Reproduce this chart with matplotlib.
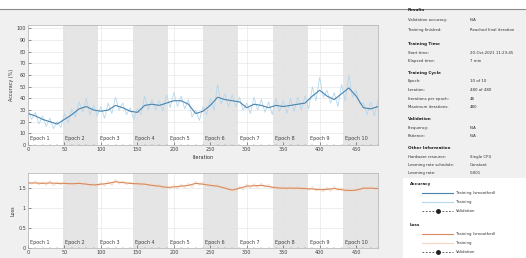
import numpy as np
import matplotlib.pyplot as plt
from matplotlib.patches import Rectangle

W, H = 526, 258

iters_per_epoch = 48
n_epochs = 10
max_iter = 480

# smoothed curves, one value every 10 iterations
smooth_step = 10
acc_smooth = [27, 25, 22, 20, 18, 22, 26, 31, 33, 30,
              29, 30, 34, 32, 29, 28, 34, 35, 34, 36,
              38, 38, 35, 27, 29, 34, 41, 39, 38, 37,
              32, 35, 34, 32, 34, 33, 34, 35, 36, 42,
              47, 42, 39, 44, 49, 42, 32, 31, 33]
loss_smooth = [1.63, 1.63, 1.62, 1.63, 1.62, 1.62, 1.61, 1.62, 1.60, 1.58,
               1.60, 1.62, 1.66, 1.64, 1.62, 1.61, 1.60, 1.57, 1.55, 1.52,
               1.53, 1.55, 1.57, 1.62, 1.60, 1.57, 1.55, 1.50, 1.45, 1.50,
               1.55, 1.56, 1.57, 1.54, 1.51, 1.50, 1.50, 1.50, 1.49, 1.48,
               1.46, 1.47, 1.49, 1.46, 1.44, 1.45, 1.50, 1.50, 1.49]

# raw training curves, one value every 5 iterations
raw_step = 5
acc_raw = [30, 22, 28, 18, 25, 16, 23, 14, 20, 15,
           27, 19, 31, 24, 37, 28, 40, 26, 34, 25,
           33, 23, 36, 27, 41, 30, 36, 26, 32, 22,
           31, 26, 42, 30, 39, 30, 38, 29, 43, 32,
           45, 33, 42, 31, 39, 24, 30, 21, 33, 26,
           40, 30, 52, 35, 44, 33, 43, 33, 41, 30,
           36, 27, 41, 30, 39, 28, 37, 26, 40, 29,
           38, 27, 40, 29, 41, 30, 42, 31, 50, 38,
           58, 41, 47, 36, 45, 33, 52, 38, 60, 41,
           47, 35, 36, 26, 37, 25, 38]
loss_raw = [1.66, 1.60, 1.68, 1.58, 1.66, 1.57, 1.69, 1.56, 1.65, 1.58,
            1.67, 1.57, 1.64, 1.56, 1.67, 1.57, 1.64, 1.55, 1.62, 1.53,
            1.65, 1.55, 1.67, 1.57, 1.72, 1.60, 1.68, 1.59, 1.66, 1.57,
            1.65, 1.56, 1.64, 1.55, 1.62, 1.52, 1.60, 1.49, 1.57, 1.47,
            1.58, 1.48, 1.60, 1.50, 1.62, 1.52, 1.67, 1.57, 1.65, 1.55,
            1.62, 1.52, 1.60, 1.49, 1.55, 1.45, 1.50, 1.40, 1.55, 1.45,
            1.60, 1.50, 1.61, 1.51, 1.62, 1.52, 1.59, 1.49, 1.56, 1.46,
            1.55, 1.45, 1.55, 1.45, 1.55, 1.44, 1.54, 1.44, 1.53, 1.43,
            1.51, 1.41, 1.52, 1.42, 1.54, 1.44, 1.51, 1.41, 1.49, 1.39,
            1.50, 1.40, 1.55, 1.45, 1.55, 1.45, 1.54]

acc_ticks = list(range(0, 101, 10))
loss_ticks = [0, 0.5, 1, 1.5]
loss_tick_labels = ['0', '0.5', '1', '1.5']
iter_ticks = list(range(0, 451, 50))

info_rows = [
    ('Results', None),
    ('Validation accuracy:', 'N/A'),
    ('Training finished:', 'Reached final iteration'),
    ('Training Time', None),
    ('Start time:', '20-Oct-2021 11:23:45'),
    ('Elapsed time:', '7 min'),
    ('Training Cycle', None),
    ('Epoch:', '10 of 10'),
    ('Iteration:', '480 of 480'),
    ('Iterations per epoch:', '48'),
    ('Maximum iterations:', '480'),
    ('Validation', None),
    ('Frequency:', 'N/A'),
    ('Patience:', 'N/A'),
    ('Other Information', None),
    ('Hardware resource:', 'Single CPU'),
    ('Learning rate schedule:', 'Constant'),
    ('Learning rate:', '0.001'),
]
info_y = [10, 20, 30, 44, 53, 61, 73, 81, 90, 99, 107, 119, 128, 136, 148, 157, 165, 173]

acc_dark = '#4a83ad'
acc_light = '#b3d8ef'
loss_dark = '#d98a5c'
loss_light = '#f6d6c2'

fig = plt.figure(figsize=(W / 100, H / 100), dpi=100, facecolor='#f0f0f0')


def px_axes(x0, y0, x1, y1):
    return fig.add_axes([x0 / W, 1 - y1 / H, (x1 - x0) / W, (y1 - y0) / H])


def style(ax):
    ax.set_facecolor('white')
    for s in ax.spines.values():
        s.set_color('#b0b0b0')
        s.set_linewidth(0.5)
    ax.tick_params(direction='in', length=2, width=0.4, labelsize=3.5,
                   colors='#404040', pad=1.5)
    ax.tick_params(which='minor', direction='in', length=1, width=0.3, colors='#808080')
    ax.grid(True, color='#e2e2e2', linewidth=0.4)
    ax.set_axisbelow(True)
    for k in range(n_epochs):
        if k % 2 == 1:
            ax.axvspan(k * iters_per_epoch, (k + 1) * iters_per_epoch,
                       color='#e5e5e5', zorder=0, linewidth=0)
    ax.set_xlim(0, max_iter)
    ax.set_xticks(iter_ticks)
    ax.set_xticks(range(0, max_iter + 1, 10), minor=True)


x_smooth = np.arange(len(acc_smooth)) * smooth_step
x_raw = np.arange(len(acc_raw)) * raw_step

# accuracy
ax1 = px_axes(28, 25, 378, 145)
style(ax1)
ax1.plot(x_raw, acc_raw, color=acc_light, linewidth=0.6)
ax1.plot(x_smooth, acc_smooth, color=acc_dark, linewidth=0.8)
ax1.set_ylim(0, 103)
ax1.set_yticks(acc_ticks)
ax1.set_ylabel('Accuracy (%)', fontsize=3.5, labelpad=2, color='#303030')
ax1.set_xlabel('Iteration', fontsize=3.5, labelpad=2, color='#303030')
for k in range(n_epochs):
    ax1.text(k * iters_per_epoch + 3, 6, f'Epoch {k + 1}', fontsize=3.5,
             va='center', color='#404040')

# loss
ax2 = px_axes(28, 173, 378, 248)
style(ax2)
ax2.plot(x_raw, loss_raw, color=loss_light, linewidth=0.6)
ax2.plot(x_smooth, loss_smooth, color=loss_dark, linewidth=0.8)
ax2.set_ylim(0, 1.88)
ax2.set_yticks(loss_ticks)
ax2.set_yticklabels(loss_tick_labels)
ax2.set_ylabel('Loss', fontsize=3.5, labelpad=2, color='#303030')
for k in range(n_epochs):
    ax2.text(k * iters_per_epoch + 3, 0.13, f'Epoch {k + 1}', fontsize=3.5,
             va='center', color='#404040')

# overlay in pixel coordinates for the window chrome and side panel
ov = fig.add_axes([0, 0, 1, 1])
ov.set_xlim(0, W)
ov.set_ylim(H, 0)
ov.axis('off')
ov.add_patch(Rectangle((0, 0), W, 9, color='white', linewidth=0))
ov.plot([0, W], [9, 9], color='#8a8a8a', linewidth=0.8)

for (label, value), y in zip(info_rows, info_y):
    if value is None:
        ov.text(408, y, label, fontsize=3, fontweight='bold', va='center', color='#202020')
    else:
        ov.text(408, y, label, fontsize=2.8, va='center', color='#303030')
        ov.text(470, y, value, fontsize=2.8, va='center', color='#303030')

ov.add_patch(Rectangle((403, 178), W - 403, H - 178, color='white', linewidth=0))

legend_groups = [('Accuracy', 184, acc_dark, acc_light),
                 ('Loss', 225, loss_dark, loss_light)]
for title, y0, dark, light in legend_groups:
    ov.text(410, y0, title, fontsize=3, fontweight='bold', va='center', color='#202020')
    ov.plot([422, 453], [y0 + 9, y0 + 9], color=dark, linewidth=0.8)
    ov.text(456, y0 + 9, 'Training (smoothed)', fontsize=2.8, va='center', color='#303030')
    ov.plot([422, 453], [y0 + 18, y0 + 18], color=light, linewidth=0.8)
    ov.text(456, y0 + 18, 'Training', fontsize=2.8, va='center', color='#303030')
    ov.plot([422, 453], [y0 + 27, y0 + 27], color='#404040', linewidth=0.6,
            linestyle='--', dashes=(2, 2))
    ov.plot([437.5], [y0 + 27], marker='o', markersize=2.5, color='#202020')
    ov.text(456, y0 + 27, 'Validation', fontsize=2.8, va='center', color='#303030')

fig.savefig('out.png', dpi=100, facecolor=fig.get_facecolor())
